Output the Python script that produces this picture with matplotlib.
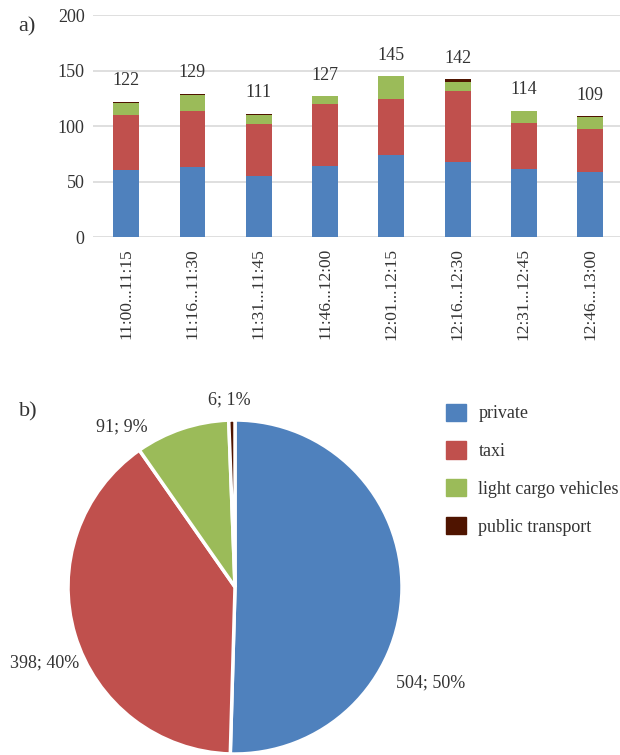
import numpy as np
import matplotlib
matplotlib.use('Agg')
import matplotlib.pyplot as plt
from matplotlib.patches import Patch

plt.rcParams['font.family'] = ['Liberation Serif', 'DejaVu Serif']

# data
periods = ['11:00...11:15', '11:16...11:30', '11:31...11:45', '11:46...12:00',
           '12:01...12:15', '12:16...12:30', '12:31...12:45', '12:46...13:00']
private = [60, 63, 55, 64, 74, 68, 61, 59]
taxi = [50, 51, 47, 56, 50, 64, 42, 38]
light_cargo = [11, 14, 8, 7, 21, 8, 11, 11]
public = [1, 1, 1, 0, 0, 2, 0, 1]

categories = ['private', 'taxi', 'light cargo vehicles', 'public transport']
pie_values = [504, 398, 91, 6]
pie_pct = [50, 40, 9, 1]
colors = ['#4f81bd', '#c0504d', '#9bbb59', '#4f1400']

txt = '#333333'
fig = plt.figure(figsize=(6.2, 7.55), dpi=100)

# a) stacked bars
ax = fig.add_axes([0.15, 0.686, 0.85, 0.294])
x = np.arange(len(periods))
bottom = np.zeros(len(periods))
for vals, c in zip([private, taxi, light_cargo, public], colors):
    ax.bar(x, vals, 0.39, bottom=bottom, color=c, zorder=3)
    bottom += np.array(vals)
for xi, tot in zip(x, bottom):
    ax.annotate(f'{int(tot)}', (xi, tot), xytext=(0, 9), textcoords='offset points',
                ha='center', va='bottom', fontsize=13, color=txt)
ax.set_ylim(0, 200)
ax.set_xlim(-0.5, 7.45)
ax.set_yticks([0, 50, 100, 150, 200])
ax.set_xticks(x)
ax.set_xticklabels(periods, rotation=90, fontsize=12.5, color=txt)
ax.tick_params(axis='y', labelsize=13, labelcolor=txt, length=0, pad=6)
ax.tick_params(axis='x', length=0, pad=8)
ax.yaxis.grid(True, color='#d9d9d9', lw=1.2, zorder=0)
for s in ax.spines.values():
    s.set_visible(False)
fig.text(0.03, 0.965, 'a)', fontsize=16, color=txt, va='center')

# b) pie
ax2 = fig.add_axes([0.1097, 0.0013, 0.5387, 0.4424])
ax2.pie(pie_values, colors=colors, startangle=90, counterclock=False, radius=1,
        wedgeprops=dict(edgecolor='white', linewidth=2.5))
ax2.set_xlim(-1, 1)
ax2.set_ylim(-1, 1)
ax2.set_aspect('equal')
label_pos = [(1.17, -0.575), (-1.14, -0.455), (-0.68, 0.96), (-0.036, 1.12)]
for v, p, (lx, ly) in zip(pie_values, pie_pct, label_pos):
    ax2.text(lx, ly, f'{v}; {p}%', ha='center', va='center', fontsize=13,
             color=txt, clip_on=False)
fig.text(0.03, 0.455, 'b)', fontsize=16, color=txt, va='center')

handles = [Patch(color=c) for c in colors]
fig.legend(handles, categories, loc='upper left', bbox_to_anchor=(0.693, 0.487),
           frameon=False, fontsize=13, handlelength=1.1, handleheight=1.1,
           labelspacing=1.05, handletextpad=0.7, labelcolor=txt)

plt.savefig('out.png', dpi=100)
